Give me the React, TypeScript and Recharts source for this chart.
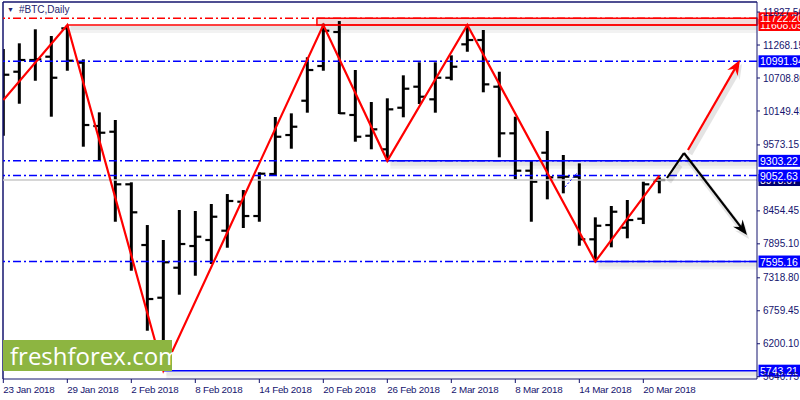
import React from 'react';
import { ComposedChart, Bar, Line, XAxis, YAxis, ReferenceLine, ReferenceArea } from 'recharts';

// daily bars, index 0 = 23 Jan 2018
const OPEN = [10400, 10815, 11014, 11070, 11551, 10968, 9894, 9797, 8905, 7875, 6981, 7490, 7858, 7960, 8118, 8610, 8367, 9080, 9741, 10323, 10912, 11489, 10081, 9729, 9499, 10204, 10561, 10347, 10713, 11280, 11353, 10561, 9770, 9136, 9441, 9024, 9034, 7972, 8214, 8169, 8321, 8966];
const HIGH = [11200, 11297, 11535, 11421, 11600, 11025, 10126, 9996, 8939, 8214, 7960, 8469, 8452, 8571, 8740, 8808, 9109, 10047, 10109, 11060, 11630, 11675, 10844, 10301, 10364, 10754, 10975, 10975, 11093, 11600, 11523, 10815, 10052, 9305, 9809, 9402, 9261, 8345, 8537, 8639, 8949, 9024];
const LOW = [9729, 10272, 10662, 10052, 10832, 9543, 9300, 8270, 7439, 6421, 5743.21, 7032, 7354, 7553, 7829, 8164, 8270, 9046, 9509, 10120, 10832, 10098, 9628, 9499, 9303.22, 10042, 10267, 10120, 10669, 11154, 10466, 9363, 8990, 8270, 8650, 8752, 7863, 7595.16, 7836, 7989, 8231, 8752];
const CLOSE = [10764, 11014, 11025, 10713, 11002, 9911, 9780, 8905, 8430, 6959, 7582, 7892, 8016, 8355, 8622, 8367, 9085, 9712, 9882, 10844, 11511, 10110, 9712, 9838, 10177, 10527, 10391, 10713, 10900, 11353, 10601, 9770, 9136, 8949, 9024, 9034, 7972, 8202, 8440, 8299, 8905, 8978.07];

const DATE_TICKS = [0, 4, 8, 12, 16, 20, 24, 28, 32, 36, 40];
const DATE_LABELS = ['23 Jan 2018', '29 Jan 2018', '2 Feb 2018', '8 Feb 2018', '14 Feb 2018', '20 Feb 2018', '26 Feb 2018', '2 Mar 2018', '8 Mar 2018', '14 Mar 2018', '20 Mar 2018'];
const PRICE_TICKS = [11827.5, 11268.15, 10708.8, 10149.45, 9573.15, 8454.45, 7895.1, 7318.8, 6759.45, 6200.1, 5640.75];

const ZIGZAG_X = [0, 4, 10, 20, 24, 29, 37, 41];
const ZIGZAG_Y = [10335, 11608.05, 5743.21, 11608.05, 9303.22, 11608.05, 7595.16, 9052.63];

// projection arrows (bar index, price)
const DOWN_X = [41.48, 42.54, 46.48];
const DOWN_Y = [9012, 9436, 8045];
const UP_X = [42.79, 46.04];
const UP_Y = [9487, 11014];
const TREND_X = [35.1, 35.86];
const TREND_Y = [8859, 9097];

const LVL_TOP = 11722.2;
const LVL_PEAK = 11608.05;
const LVL_R1 = 10991.94;
const LVL_R2 = 9303.22;
const LVL_R3 = 9052.63;
const LVL_LAST = 8978.07;
const LVL_S1 = 7595.16;
const LVL_S2 = 5743.21;

const X_MIN = -0.02;
const X_MAX = 47.105;
const Y_MIN = 5602;
const Y_MAX = 11998;

const bars = OPEN.map((o, i) => ({ i, open: o, high: HIGH[i], low: LOW[i], close: CLOSE[i] }));
const zigzag = ZIGZAG_X.map((x, k) => ({ i: x, zz: ZIGZAG_Y[k] }));

const FONT = '"Liberation Sans", Arial, sans-serif';
const NAVY = '#14146e';
const DASHDOT = '8 3 2 3';

function OhlcShape(props: any) {
  const { x, y, width, height, payload } = props;
  if (x == null || y == null) return null;
  const cx = x + width / 2;
  const top = Math.min(y, y + height);
  const bottom = Math.max(y, y + height);
  const span = payload.high - payload.low || 1;
  const py = (v: number) => top + ((payload.high - v) / span) * (bottom - top);
  return (
    <g>
      <line x1={cx} x2={cx} y1={top} y2={bottom} stroke="#000" strokeWidth={3} />
      <line x1={cx - 6} x2={cx} y1={py(payload.open)} y2={py(payload.open)} stroke="#000" strokeWidth={2.2} />
      <line x1={cx} x2={cx + 6} y1={py(payload.close)} y2={py(payload.close)} stroke="#000" strokeWidth={2.2} />
    </g>
  );
}

// solid line with the faint drop shadow of the terminal's objects
function shadowed(color: string) {
  return (p: any) => {
    const { x1, y1, x2, y2 } = p;
    if (x1 == null) return null;
    return (
      <g>
        <line x1={x1 + 3} y1={y1 + 4} x2={x2} y2={y2 + 4} stroke="#000" strokeOpacity={0.05} strokeWidth={8} />
        <line x1={x1 + 3} y1={y1 + 3} x2={x2} y2={y2 + 3} stroke="#000" strokeOpacity={0.05} strokeWidth={4} />
        <line x1={x1} y1={y1} x2={x2} y2={y2} stroke={color} strokeWidth={1.5} />
      </g>
    );
  };
}

function arrow(color: string, head: boolean) {
  return (p: any) => {
    const { x1, y1, x2, y2 } = p;
    if (x1 == null) return null;
    const ang = Math.atan2(y2 - y1, x2 - x1);
    const len = 15;
    const w = 6;
    const bx = x2 - Math.cos(ang) * len;
    const by = y2 - Math.sin(ang) * len;
    const nx = x2 - Math.cos(ang) * (len - 5);
    const ny = y2 - Math.sin(ang) * (len - 5);
    const lx = bx + Math.sin(ang) * w;
    const ly = by - Math.cos(ang) * w;
    const rx = bx - Math.sin(ang) * w;
    const ry = by + Math.cos(ang) * w;
    const pts = `${x2},${y2} ${lx},${ly} ${nx},${ny} ${rx},${ry}`;
    return (
      <g>
        <g transform="translate(2,4)" opacity={0.1}>
          <line x1={x1} y1={y1} x2={nx} y2={ny} stroke="#000" strokeWidth={5} />
          {head && <polygon points={pts} fill="#000" />}
        </g>
        <line x1={x1} y1={y1} x2={head ? nx : x2} y2={head ? ny : y2} stroke={color} strokeWidth={2.2} />
        {head && <polygon points={pts} fill={color} />}
      </g>
    );
  };
}

function tag(value: number, bg: string) {
  return (props: any) => {
    const vb = props.viewBox;
    if (!vb) return null;
    const x = vb.x + vb.width;
    return (
      <g>
        <rect x={x + 1.5} y={vb.y - 6} width={44} height={12} fill={bg} />
        <text x={x + 3} y={vb.y + 4} fill="#fff" fontSize={10.5} fontFamily={FONT}>{value.toFixed(2)}</text>
      </g>
    );
  };
}

function DateTick(props: any) {
  const { x, y, payload } = props;
  const k = DATE_TICKS.indexOf(payload.value);
  return (
    <text x={x} y={y + 8} textAnchor="start" fill={NAVY} fontSize={9.8} letterSpacing={-0.25} fontFamily={FONT}>
      {DATE_LABELS[k] ?? ''}
    </text>
  );
}

export default function App() {
  return (
    <div style={{ position: 'absolute', left: 0, top: 0, width: 800, height: 400, background: '#fff' }}>
      <ComposedChart width={800} height={400} data={bars} margin={{ top: 2, right: 0, bottom: 0, left: 3 }}>
        <XAxis
          dataKey="i"
          type="number"
          domain={[X_MIN, X_MAX]}
          ticks={DATE_TICKS}
          allowDataOverflow
          height={21}
          tickSize={4}
          tickMargin={2}
          stroke={NAVY}
          tick={DateTick}
          interval={0}
        />
        <YAxis
          orientation="right"
          type="number"
          domain={[Y_MIN, Y_MAX]}
          ticks={PRICE_TICKS}
          allowDataOverflow
          width={43}
          tickSize={3}
          tickMargin={3}
          stroke={NAVY}
          tick={{ fill: NAVY, fontSize: 10, fontFamily: FONT }}
          tickFormatter={(v: number) => v.toFixed(2)}
          interval={0}
        />
        <ReferenceLine y={Y_MAX} stroke={NAVY} strokeWidth={1.5} />
        <ReferenceLine x={X_MIN} stroke={NAVY} strokeWidth={1.5} />

        <ReferenceArea x1={19.6} x2={X_MAX} y1={LVL_PEAK} y2={LVL_TOP} fill="#f3dcdc" fillOpacity={1} stroke="#ff0000" strokeWidth={1.5} />
        <ReferenceLine segment={[{ x: 4, y: LVL_PEAK }, { x: X_MAX, y: LVL_PEAK }]} shape={shadowed('#ff0000')} />
        <ReferenceLine y={LVL_PEAK} stroke="#ff0000" strokeWidth={0} label={tag(LVL_PEAK, '#ff0000')} />
        <ReferenceLine y={LVL_TOP} stroke="#ff0000" strokeWidth={1.5} strokeDasharray={DASHDOT} label={tag(LVL_TOP, '#ff0000')} />

        <ReferenceLine y={LVL_R1} stroke="#0000ff" strokeWidth={1.5} strokeDasharray={DASHDOT} label={tag(LVL_R1, '#0000ff')} />
        <ReferenceLine y={LVL_R2} stroke="#0000ff" strokeWidth={1.5} strokeDasharray={DASHDOT} label={tag(LVL_R2, '#0000ff')} />
        <ReferenceLine segment={[{ x: 24, y: LVL_R2 }, { x: X_MAX, y: LVL_R2 }]} shape={shadowed('#0000ff')} />
        <ReferenceLine y={LVL_LAST} stroke="#c8c8c8" strokeWidth={1.5} label={tag(LVL_LAST, '#000070')} />
        <ReferenceLine y={LVL_R3} stroke="#0000ff" strokeWidth={1.5} strokeDasharray={DASHDOT} label={tag(LVL_R3, '#0000ff')} />
        <ReferenceLine y={LVL_S1} stroke="#0000ff" strokeWidth={1.5} strokeDasharray={DASHDOT} label={tag(LVL_S1, '#0000ff')} />
        <ReferenceLine segment={[{ x: 37, y: LVL_S1 }, { x: X_MAX, y: LVL_S1 }]} shape={shadowed('#0000ff')} />
        <ReferenceLine y={LVL_S2} stroke="#0000ff" strokeWidth={0} label={tag(LVL_S2, '#0000ff')} />
        <ReferenceLine segment={[{ x: 10, y: LVL_S2 }, { x: X_MAX, y: LVL_S2 }]} shape={shadowed('#0000ff')} />

        <ReferenceLine segment={[{ x: TREND_X[0], y: TREND_Y[0] }, { x: TREND_X[1], y: TREND_Y[1] }]} stroke="#0000ff" strokeWidth={1} strokeDasharray="2 2" />

        <Bar dataKey={(d: any) => [d.low, d.high]} barSize={6} shape={OhlcShape} isAnimationActive={false} />
        <Line data={zigzag} dataKey="zz" stroke="#ff0000" strokeWidth={2.2} dot={false} isAnimationActive={false} />

        <ReferenceLine segment={[{ x: DOWN_X[0], y: DOWN_Y[0] }, { x: DOWN_X[1], y: DOWN_Y[1] }]} shape={arrow('#000', false)} />
        <ReferenceLine segment={[{ x: DOWN_X[1], y: DOWN_Y[1] }, { x: DOWN_X[2], y: DOWN_Y[2] }]} shape={arrow('#000', true)} />
        <ReferenceLine segment={[{ x: UP_X[0], y: UP_Y[0] }, { x: UP_X[1], y: UP_Y[1] }]} shape={arrow('#ff0000', true)} />
      </ComposedChart>

      <div style={{ position: 'absolute', left: 7, top: 3, fontFamily: FONT, fontSize: 10, color: '#25256e', lineHeight: '14px', whiteSpace: 'nowrap' }}>
        <span style={{ fontSize: 7, marginRight: 5, verticalAlign: 1 }}>▼</span>#BTC,Daily
      </div>
      <div style={{ position: 'absolute', left: 3, top: 340, width: 169, height: 31, background: '#8db541', color: '#fff', fontFamily: '"Open Sans", sans-serif', fontSize: 24, lineHeight: '31px', paddingLeft: 7, boxSizing: 'border-box', whiteSpace: 'nowrap' }}>
        freshforex.com
      </div>
    </div>
  );
}
